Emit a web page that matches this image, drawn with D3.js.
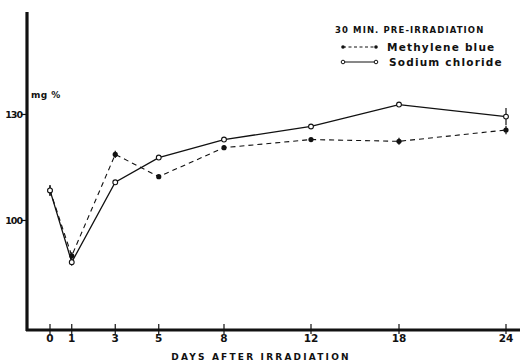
<!DOCTYPE html>
<html>
<head>
<meta charset="utf-8">
<script src="https://cdn.jsdelivr.net/npm/d3@7"></script>
<style>
  body { margin: 0; background: #fff; }
  text { font-family: "DejaVu Sans", sans-serif; font-weight: bold; fill: #111; }
</style>
</head>
<body>
<svg id="chart" width="520" height="364"></svg>
<script>
// days after irradiation (axis is not evenly spaced in the original)
const days = [0, 1, 3, 5, 8, 12, 18, 24];
const dayLabels = ["0", "1", "3", "5", "8", "12", "18", "24"];
const yTicks = [100, 130];

// mg % values
const methyleneBlue = [108.5, 90, 118.7, 112.4, 120.6, 122.9, 122.4, 125.6];
const sodiumChloride = [108.5, 88.2, 110.8, 117.8, 122.9, 126.6, 132.8, 129.4];
const mbErr = [1.5, 1, 1, 0, 0.6, 0, 1, 1.2];
const naErr = [1.5, 1, 0, 0, 0, 0, 0, 2.4];

const svg = d3.select("#chart");
const plot = { left: 27, right: 520, top: 12, bottom: 330 };

// piecewise linear day scale, anchored to the printed tick positions
const x = d3.scaleLinear()
  .domain([0, 12, 18, 24])
  .range([50, 311, 399, 506]);

const y = d3.scaleLinear()
  .domain([69, 159])
  .range([plot.bottom, plot.top]);

// axes lines (thick, like the printed figure)
svg.append("line")
  .attr("x1", plot.left).attr("x2", plot.left)
  .attr("y1", plot.top).attr("y2", plot.bottom + 1)
  .attr("stroke", "#111").attr("stroke-width", 3.2);
svg.append("line")
  .attr("x1", plot.left - 1).attr("x2", plot.right)
  .attr("y1", plot.bottom).attr("y2", plot.bottom)
  .attr("stroke", "#111").attr("stroke-width", 3);

// x ticks and labels
const xt = svg.append("g");
days.forEach((d, i) => {
  xt.append("line")
    .attr("x1", x(d)).attr("x2", x(d))
    .attr("y1", plot.bottom - 6).attr("y2", plot.bottom + 4)
    .attr("stroke", "#111").attr("stroke-width", 1.2);
  xt.append("text")
    .attr("x", x(d)).attr("y", plot.bottom + 12)
    .attr("text-anchor", "middle")
    .attr("font-size", 10.5)
    .text(dayLabels[i]);
});

// y ticks and labels
yTicks.forEach(v => {
  svg.append("line")
    .attr("x1", plot.left - 6).attr("x2", plot.left)
    .attr("y1", y(v)).attr("y2", y(v))
    .attr("stroke", "#111").attr("stroke-width", 1.2);
  svg.append("text")
    .attr("x", plot.left - 5).attr("y", y(v) + 3.5)
    .attr("text-anchor", "end")
    .attr("font-size", 9.5)
    .attr("letter-spacing", -1)
    .text(v);
});

svg.append("text")
  .attr("x", 31).attr("y", 98)
  .attr("font-size", 9)
  .attr("letter-spacing", 0.4)
  .text("mg %");

// axis title
svg.append("text")
  .attr("x", 261).attr("y", 360)
  .attr("text-anchor", "middle")
  .attr("font-size", 9)
  .attr("letter-spacing", 2.2)
  .text("DAYS AFTER IRRADIATION");

// series
const line = d3.line().x((d, i) => x(days[i])).y(d => y(d));

svg.append("path")
  .datum(methyleneBlue)
  .attr("d", line)
  .attr("fill", "none")
  .attr("stroke", "#111")
  .attr("stroke-width", 1.1)
  .attr("stroke-dasharray", "5,4");

svg.append("path")
  .datum(sodiumChloride)
  .attr("d", line)
  .attr("fill", "none")
  .attr("stroke", "#111")
  .attr("stroke-width", 1.3);

// error bars
function errBars(vals, errs) {
  vals.forEach((v, i) => {
    if (!errs[i]) return;
    svg.append("line")
      .attr("x1", x(days[i])).attr("x2", x(days[i]))
      .attr("y1", y(v - errs[i])).attr("y2", y(v + errs[i]))
      .attr("stroke", "#111").attr("stroke-width", 1.2);
  });
}
errBars(methyleneBlue, mbErr);
errBars(sodiumChloride, naErr);

svg.selectAll(".mb")
  .data(methyleneBlue)
  .join("circle")
  .attr("class", "mb")
  .attr("cx", (d, i) => x(days[i]))
  .attr("cy", d => y(d))
  .attr("r", 2.6)
  .attr("fill", "#111");

svg.selectAll(".na")
  .data(sodiumChloride)
  .join("circle")
  .attr("class", "na")
  .attr("cx", (d, i) => x(days[i]))
  .attr("cy", d => y(d))
  .attr("r", 2.4)
  .attr("fill", "#fff")
  .attr("stroke", "#111")
  .attr("stroke-width", 1.1);

// legend
const lg = svg.append("g");
lg.append("text")
  .attr("x", 335).attr("y", 33)
  .attr("font-size", 8.5)
  .attr("letter-spacing", 1.1)
  .text("30 MIN. PRE-IRRADIATION");

lg.append("line")
  .attr("x1", 343).attr("x2", 376)
  .attr("y1", 47).attr("y2", 47)
  .attr("stroke", "#111").attr("stroke-width", 1)
  .attr("stroke-dasharray", "3,2.5");
lg.append("circle").attr("cx", 343).attr("cy", 47).attr("r", 1.8).attr("fill", "#111");
lg.append("circle").attr("cx", 376).attr("cy", 47).attr("r", 1.8).attr("fill", "#111");
lg.append("text")
  .attr("x", 387).attr("y", 51)
  .attr("font-size", 10.5)
  .attr("letter-spacing", 1.2)
  .text("Methylene blue");

lg.append("line")
  .attr("x1", 343).attr("x2", 376)
  .attr("y1", 62).attr("y2", 62)
  .attr("stroke", "#111").attr("stroke-width", 1);
lg.append("circle").attr("cx", 343).attr("cy", 62).attr("r", 1.8)
  .attr("fill", "#fff").attr("stroke", "#111").attr("stroke-width", 1);
lg.append("circle").attr("cx", 376).attr("cy", 62).attr("r", 1.8)
  .attr("fill", "#fff").attr("stroke", "#111").attr("stroke-width", 1);
lg.append("text")
  .attr("x", 389).attr("y", 66)
  .attr("font-size", 10.5)
  .attr("letter-spacing", 1.2)
  .text("Sodium chloride");
</script>
</body>
</html>
